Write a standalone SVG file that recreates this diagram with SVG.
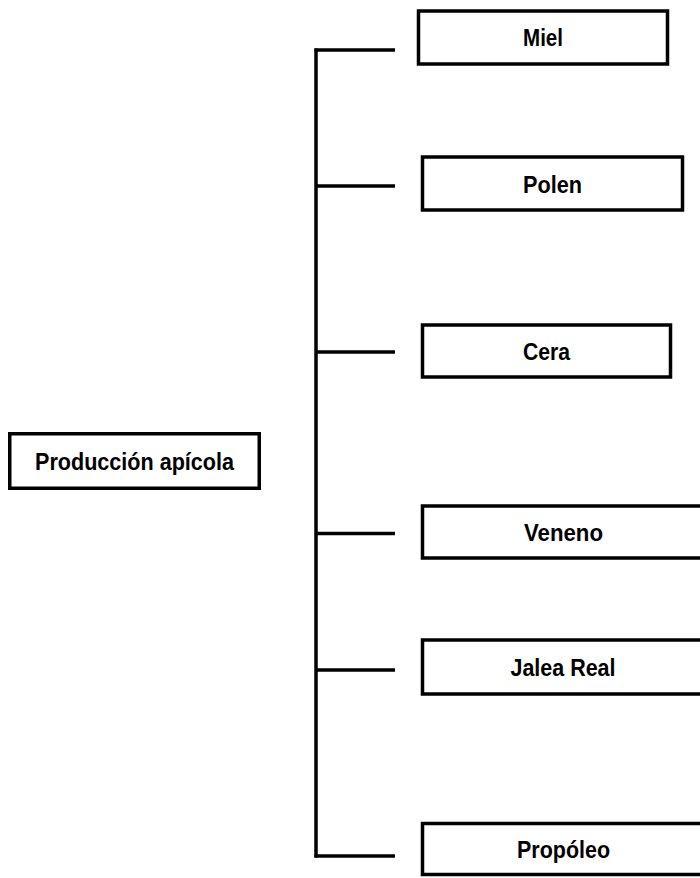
<svg xmlns="http://www.w3.org/2000/svg" width="700" height="878" viewBox="0 0 700 878">
<style>
.box{fill:#fff;stroke:#000;stroke-width:3.5}
.lbl{font-family:"Liberation Sans",Arial,sans-serif;font-size:24px;font-weight:bold;fill:#000;text-anchor:middle}
.con{stroke:#000;stroke-width:3.5;fill:none;stroke-linecap:butt}
</style>
<rect width="700" height="878" fill="#fff"/>
<g id="connectors">
<path class="con" d="M316,48.5 V857.5"/>
<path class="con" d="M314.5,50 H395"/>
<path class="con" d="M316,186 H395"/>
<path class="con" d="M316,352 H395"/>
<path class="con" d="M316,533.5 H395"/>
<path class="con" d="M316,670 H395"/>
<path class="con" d="M314.5,856 H395"/>
</g>
<g id="root">
<rect class="box" x="9.75" y="433.75" width="249.5" height="54.5"/>
<text class="lbl" x="134.5" y="469.5" textLength="199" lengthAdjust="spacingAndGlyphs">Producción apícola</text>
</g>
<g id="miel">
<rect class="box" x="418.5" y="11" width="249" height="53"/>
<text class="lbl" x="543" y="46" textLength="40" lengthAdjust="spacingAndGlyphs">Miel</text>
</g>
<g id="polen">
<rect class="box" x="422.5" y="157" width="260" height="53"/>
<text class="lbl" x="552.5" y="192.5" textLength="59" lengthAdjust="spacingAndGlyphs">Polen</text>
</g>
<g id="cera">
<rect class="box" x="422.5" y="325" width="248" height="52"/>
<text class="lbl" x="546.5" y="359.5" textLength="47" lengthAdjust="spacingAndGlyphs">Cera</text>
</g>
<g id="veneno">
<rect class="box" x="422.5" y="506" width="282" height="52"/>
<text class="lbl" x="563.5" y="541" textLength="79" lengthAdjust="spacingAndGlyphs">Veneno</text>
</g>
<g id="jalea">
<rect class="box" x="422.5" y="640" width="282" height="54"/>
<text class="lbl" x="563" y="675.5" textLength="105" lengthAdjust="spacingAndGlyphs">Jalea Real</text>
</g>
<g id="propoleo">
<rect class="box" x="422.5" y="823.5" width="282" height="51"/>
<text class="lbl" x="563.5" y="857.5" textLength="93" lengthAdjust="spacingAndGlyphs">Propóleo</text>
</g>
</svg>
